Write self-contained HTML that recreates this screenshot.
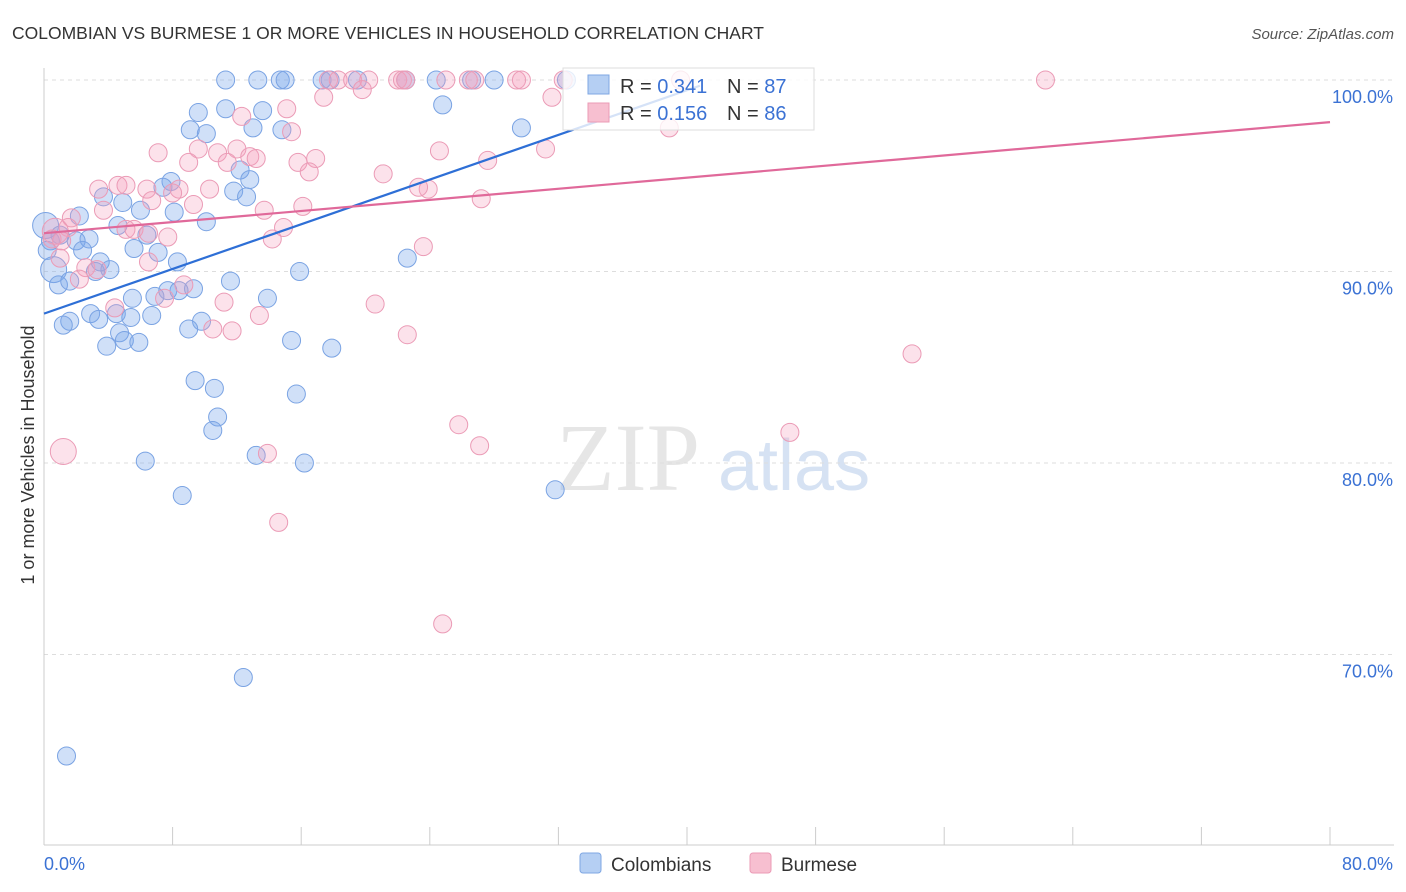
<!DOCTYPE html>
<html><head><meta charset="utf-8">
<style>
body{margin:0;background:#fff;font-family:"Liberation Sans",sans-serif;}
svg{display:block}
</style></head>
<body>
<svg id="chart" width="1406" height="892" viewBox="0 0 1406 892" xmlns="http://www.w3.org/2000/svg">
<text x="12" y="39" font-size="17.5" fill="#333" font-family="Liberation Sans, sans-serif">COLOMBIAN VS BURMESE 1 OR MORE VEHICLES IN HOUSEHOLD CORRELATION CHART</text>
<text x="1394" y="39" font-size="15" fill="#555" font-style="italic" text-anchor="end">Source: ZipAtlas.com</text>
<g>
<text x="556" y="490" font-size="96" fill="#e6e6e6" font-family="Liberation Serif, serif">ZIP</text>
<text x="718" y="490" font-size="72" fill="#d6e2f3" font-family="Liberation Sans, sans-serif">atlas</text>
</g>
<g id="grid"></g>
<g id="axes"></g>
<g id="pts"></g>
<g id="trends"></g>
<g>
<rect x="563" y="68" width="251" height="62" fill="rgba(255,255,255,0.8)" stroke="#ddd"/>
<rect x="588" y="75" width="21" height="19" fill="#b5cff3" stroke="#7fa7e3"/>
<rect x="588" y="103" width="21" height="19" fill="#f7bfd0" stroke="#eb9bb6"/>
<text x="620" y="93" font-size="20" fill="#333">R = <tspan fill="#3b72d4">0.341</tspan></text>
<text x="727" y="93" font-size="20" fill="#333">N = <tspan fill="#3b72d4">87</tspan></text>
<text x="620" y="120" font-size="20" fill="#333">R = <tspan fill="#3b72d4">0.156</tspan></text>
<text x="727" y="120" font-size="20" fill="#333">N = <tspan fill="#3b72d4">86</tspan></text>
</g>
<g>
<rect x="580" y="853" width="21" height="20" rx="3" fill="#b5cff3" stroke="#7fa7e3"/>
<text x="611" y="871" font-size="19" fill="#333">Colombians</text>
<rect x="750" y="853" width="21" height="20" rx="3" fill="#f7bfd0" stroke="#eb9bb6"/>
<text x="781" y="871" font-size="19" fill="#333">Burmese</text>
</g>
<text transform="translate(34,455) rotate(-90)" font-size="18" fill="#333" text-anchor="middle">1 or more Vehicles in Household</text>
</svg>
<script>
const yTicks=[100,90,80,70];
const yTickLabels=["100.0%","90.0%","80.0%","70.0%"];
const xTicks=[0,8,16,24,32,40,48,56,64,72,80];
const blueX=[11.3,13.3,14.7,15.0,17.3,17.8,19.5,22.5,24.4,26.6,28.0,32.5,9.6,11.3,13.6,24.8,9.1,10.1,13.0,14.8,29.7,12.2,12.8,7.9,7.4,11.8,12.6,3.7,4.9,6.0,8.1,10.1,2.2,4.6,0.1,0.4,2.0,2.8,6.4,5.6,2.4,7.1,8.3,3.5,0.6,4.1,3.2,15.9,22.6,11.6,0.9,1.6,9.3,7.7,8.4,5.5,6.9,13.9,2.9,3.4,4.5,5.4,6.7,1.6,1.2,9.8,9.0,4.7,5.0,5.9,3.9,15.4,17.9,9.4,10.6,15.7,10.8,10.5,13.2,16.2,6.3,8.6,31.8,12.4,1.4,0.2,1.0];
const blueY=[100,100,100,100,100,100,100,100,100,100,100,100,98.3,98.5,98.4,98.7,97.4,97.2,97.5,97.4,97.5,95.3,94.8,94.7,94.4,94.2,93.9,93.9,93.6,93.2,93.1,92.6,92.9,92.4,92.4,91.6,91.6,91.7,91.9,91.2,91.1,91.0,90.5,90.5,90.1,90.1,90.0,90.0,90.7,89.5,89.3,89.5,89.1,89.0,89.0,88.6,88.7,88.6,87.8,87.5,87.8,87.6,87.7,87.4,87.2,87.4,87.0,86.8,86.4,86.3,86.1,86.4,86.0,84.3,83.9,83.6,82.4,81.7,80.4,80.0,80.1,78.3,78.6,68.8,64.7,91.1,91.9];
const blueBig=[34,44];
const pinkX=[17.7,18.3,19.2,20.2,22.0,22.3,22.5,25.0,26.4,26.8,29.4,29.7,32.3,39.6,62.3,19.8,17.4,31.6,15.1,12.3,15.4,38.9,7.1,9.6,10.8,12.0,12.8,13.2,9.0,11.4,15.8,16.9,27.6,24.6,31.2,16.5,21.1,3.4,4.6,5.1,6.4,8.4,10.3,8.0,23.9,23.3,6.7,9.3,27.2,3.7,13.7,16.1,1.7,1.5,5.1,5.6,6.5,7.7,14.9,0.7,0.5,14.2,23.6,1.0,6.5,2.6,3.3,2.2,8.7,7.5,4.4,11.2,13.4,20.6,10.5,11.7,22.6,54.0,25.8,46.4,27.1,1.2,13.9,14.6,24.8,1.1];
const pinkY=[100,100,100,100,100,100,100,100,100,100,100,100,100,100,100,99.5,99.1,99.1,98.5,98.1,97.3,97.5,96.2,96.4,96.2,96.4,96.0,95.9,95.7,95.7,95.7,95.9,95.8,96.3,96.4,95.2,95.1,94.3,94.5,94.5,94.3,94.3,94.3,94.1,94.3,94.4,93.7,93.5,93.8,93.2,93.2,93.4,92.8,92.3,92.2,92.2,92.0,91.8,92.3,92.1,91.7,91.7,91.3,90.7,90.5,90.2,90.1,89.6,89.3,88.6,88.1,88.4,87.7,88.3,87.0,86.9,86.7,85.7,82.0,81.6,80.9,80.6,80.5,76.9,71.6,91.6];
const pinkBig=[59,81];
const blueTrendX=[0,40.8];
const blueTrendY=[87.8,99.7];
const pinkTrendX=[0,80];
const pinkTrendY=[92.0,97.8];

const NS="http://www.w3.org/2000/svg";
const X0=44,X1=1330,YT=80,PXPER=19.15,YB=845;
function sx(v){return X0+(v/80)*(X1-X0);}
function sy(v){return YT+(100-v)*PXPER;}
function mk(tag,attrs,parent){const e=document.createElementNS(NS,tag);for(const k in attrs)e.setAttribute(k,attrs[k]);parent.appendChild(e);return e;}
const grid=document.getElementById('grid'),axes=document.getElementById('axes'),pts=document.getElementById('pts'),tr=document.getElementById('trends');
yTicks.forEach((t,i)=>{
 const l=mk('line',{x1:X0,x2:1394,y1:sy(t),y2:sy(t),stroke:'#ddd','stroke-dasharray':'4,4'},grid);
 
 
 const tx=mk('text',{x:1393,y:sy(t)+23,'font-size':18,fill:'#3b72d4','text-anchor':'end'},axes);
 tx.textContent=yTickLabels[i];
 
 
});
const ax=mk('line',{x1:X0,x2:1394,y1:YB,y2:YB,stroke:'#ccc'},axes);


const ay=mk('line',{x1:X0,x2:X0,y1:68,y2:YB,stroke:'#ccc'},axes);


xTicks.forEach(t=>{
 const l=mk('line',{x1:sx(t),x2:sx(t),y1:YB-18,y2:YB,stroke:'#ccc'},axes);
 
 
});
const xl0=mk('text',{x:44,y:870,'font-size':18,fill:'#3b72d4'},axes);xl0.textContent='0.0%';


const xl1=mk('text',{x:1393,y:870,'font-size':18,fill:'#3b72d4','text-anchor':'end'},axes);xl1.textContent='80.0%';


function drawSeries(xs,ys,big,fill,stroke,name){
 xs.forEach((v,i)=>{
  const c=mk('circle',{cx:sx(v),cy:sy(ys[i]),r:big.includes(i)?13:9,fill:fill,stroke:stroke,'stroke-width':1},pts);
  
  
 });
}
drawSeries(blueX,blueY,blueBig,'rgba(120,165,235,0.35)','#7aa3e3','colombian-point');
drawSeries(pinkX,pinkY,pinkBig,'rgba(244,160,190,0.3)','#eb9bb6','burmese-point');
const bl=mk('line',{x1:sx(blueTrendX[0]),y1:sy(blueTrendY[0]),x2:sx(blueTrendX[1]),y2:sy(blueTrendY[1]),stroke:'#2e6fd6','stroke-width':2.2},tr);


const pl=mk('line',{x1:sx(pinkTrendX[0]),y1:sy(pinkTrendY[0]),x2:sx(pinkTrendX[1]),y2:sy(pinkTrendY[1]),stroke:'#e0699a','stroke-width':2.2},tr);


</script>
</body></html>
